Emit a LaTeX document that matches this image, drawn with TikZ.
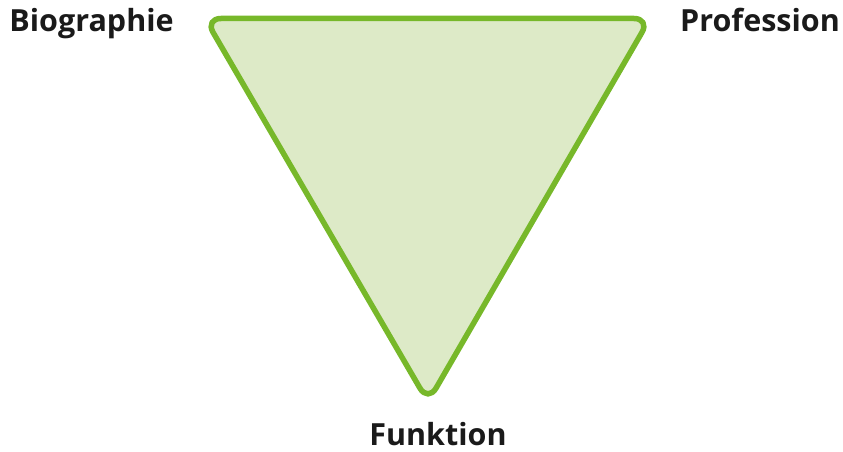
\documentclass[tikz,border=0pt]{standalone}
\usepackage{fontspec}
\setmainfont{Open Sans}
\definecolor{tristroke}{HTML}{77B82A}
\definecolor{trifill}{HTML}{DDEAC7}
\definecolor{labeltext}{HTML}{1A1A1A}
\tikzset{
  lbl/.style={font=\fontsize{30.5}{34}\selectfont\bfseries, text=labeltext, inner sep=0pt, anchor=base},
  tri/.style={draw=tristroke, fill=trifill, line width=5.5pt, rounded corners=16pt, line join=round}
}
\begin{document}
\begin{tikzpicture}[x=1pt,y=-1pt]
\useasboundingbox (0,0) rectangle (843,452);
\coordinate (tl) at (205,18.5);
\coordinate (tr) at (650,18.5);
\coordinate (bt) at (428,402);
\draw[tri] (tl) -- (tr) -- (bt) -- cycle;
\node[lbl] (bio) at (91.5,32) {Biographie};
\node[lbl] (prof) at (760,32) {Profession};
\node[lbl] (funk) at (438,445) {Funktion};
\end{tikzpicture}
\end{document}
